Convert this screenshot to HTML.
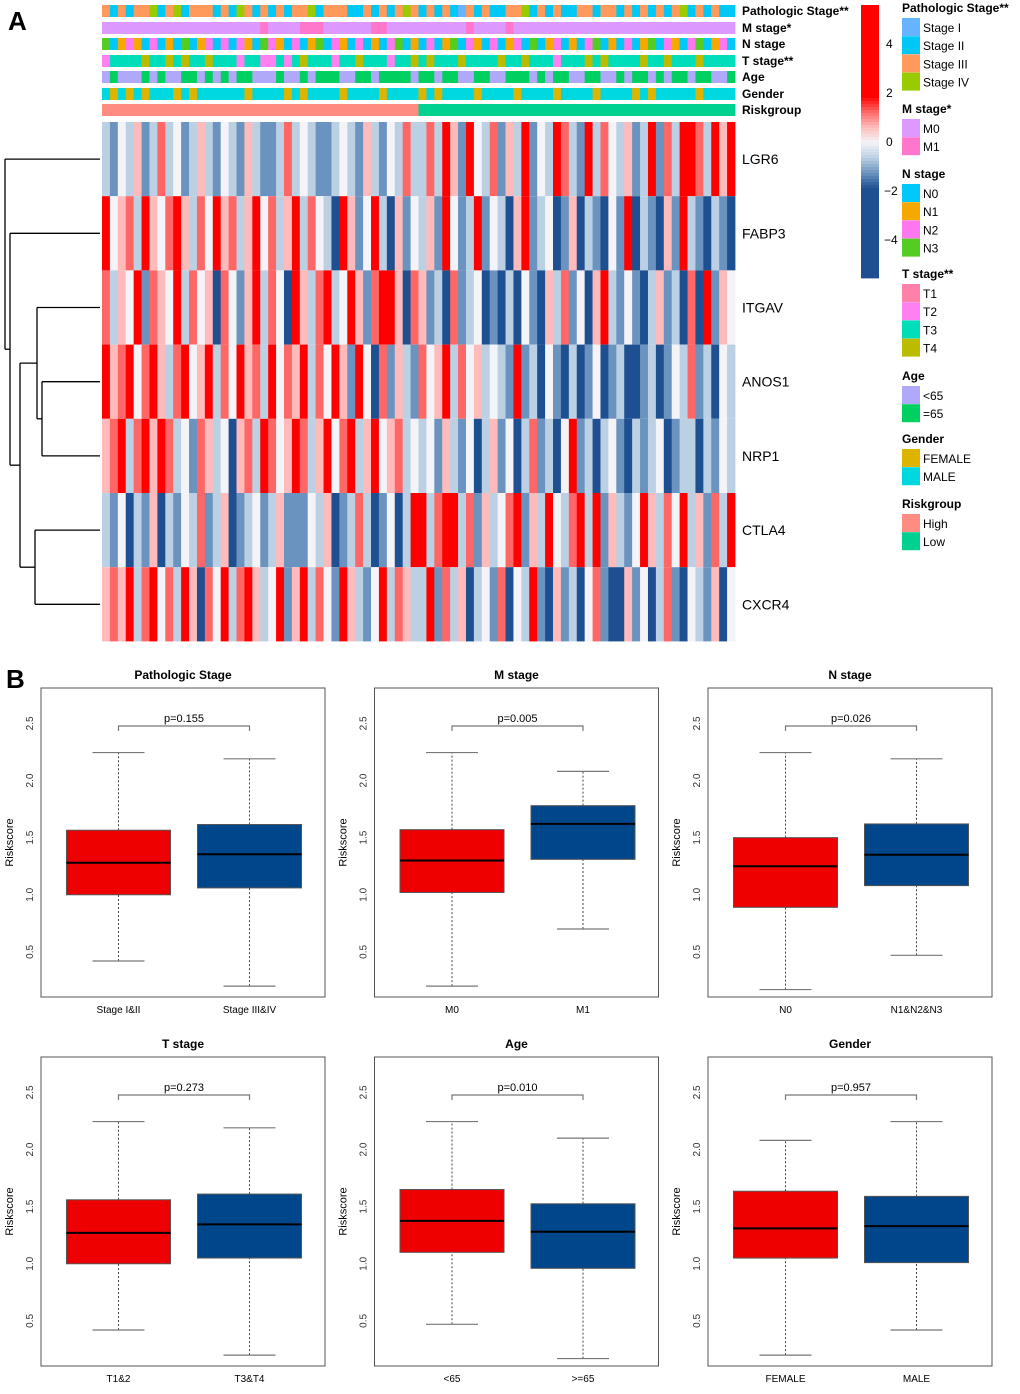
<!DOCTYPE html>
<html><head><meta charset="utf-8"><style>
body{margin:0;background:#fff}
svg{display:block;font-family:"Liberation Sans",Arial,sans-serif}
</style></head><body>
<svg id="fig" width="1020" height="1394" viewBox="0 0 1020 1394" xmlns="http://www.w3.org/2000/svg">
<text x="8" y="30" font-size="26" font-weight="bold">A</text>
<text x="6" y="688" font-size="26" font-weight="bold">B</text>
<g id="heat"></g>
<g id="dend" stroke="#000" stroke-width="1.3" fill="none"></g>
<g id="leg"></g>
<g id="box"></g>
</svg>
<script>
const NS="http://www.w3.org/2000/svg";
function mk(tag,attrs,parent,txt){const e=document.createElementNS(NS,tag);for(const k in attrs)e.setAttribute(k,attrs[k]);if(txt!==undefined)e.textContent=txt;parent.appendChild(e);return e;}

// ---- heatmap data ----
const genes=["LGR6","FABP3","ITGAV","ANOS1","NRP1","CTLA4","CXCR4"];
const LGR6=[-1,-2,0,-1,1,-2,-1,2,-1,0,-2,-1,1,-1,-2,0,-1,-2,1,-1,-2,-2,-1,2,-1,0,-1,-2,-2,-1,0,-1,-2,1,-1,-2,0,-1,2,-1,-1,2,-1,3,1,-2,3,0,-1,2,-2,1,-1,3,-2,0,-1,3,2,-1,-2,3,-1,2,0,-1,1,-2,-1,3,-2,2,-1,3,3,2,-1,3,1,3];
const FABP3=[3,0,1,2,-1,3,1,0,2,3,1,-1,2,0,3,1,2,-1,1,3,0,2,-1,1,3,-1,2,0,-1,-3,3,1,-2,0,3,-1,-3,1,-2,0,-1,1,-2,3,0,-2,-1,3,-2,0,-1,-3,1,3,-2,-1,0,-3,-2,1,-3,-1,-2,-3,0,-2,3,-3,-1,-2,-3,1,-2,3,-1,-2,-3,-1,-2,-3];
const ITGAV=[2,-1,1,0,3,-2,2,1,0,3,-1,2,0,1,-3,2,0,-2,1,3,-1,2,0,-3,3,1,-1,2,3,-1,0,3,1,-2,2,3,3,1,-3,2,1,-2,-1,-3,2,-2,-1,0,-3,-2,-3,-1,-3,0,-2,-3,1,-1,2,-2,0,-3,1,3,-1,-2,0,-2,-3,-1,1,-2,-1,-3,2,-3,3,-2,1,0];
const ANOS1=[3,1,2,3,0,2,3,1,-1,2,3,0,1,3,-1,2,0,3,1,2,-1,3,0,2,1,3,-1,2,0,3,1,-2,3,0,-3,2,-2,1,-1,-2,2,0,1,3,-1,2,0,1,-1,0,-1,-2,3,-2,-1,-3,0,-2,-3,-1,-3,-2,0,-3,-2,-1,-3,-3,-2,-1,-3,-2,0,-1,2,-2,-1,-3,0,-1];
const NRP1=[1,2,3,-1,2,3,1,3,2,-1,0,-2,2,1,-1,0,-3,1,2,-1,3,2,0,1,3,2,-1,1,3,0,2,3,-1,1,3,0,1,2,-1,0,-1,0,-2,1,-1,-2,0,-3,-1,1,-2,0,-3,-1,2,-2,-1,-3,0,3,-2,-1,-3,-1,0,-2,-3,-1,-2,-1,0,-3,-2,-1,-1,-3,-1,-2,0,-1];
const CTLA4=[-1,-2,0,-3,-1,-2,1,-3,-1,-2,0,-1,2,-2,-1,1,-3,-2,-1,0,-2,-1,1,-2,-2,-2,0,-1,1,-3,-2,-1,2,-1,-3,-2,0,-3,-1,3,3,-1,2,3,3,-1,2,-2,1,-1,0,2,3,-2,1,-1,3,0,-1,2,3,-1,3,-2,1,-1,-2,0,3,1,-1,2,0,3,-1,1,-2,2,-1,3];
const CXCR4=[1,2,1,3,-1,2,3,0,2,-1,3,1,-3,2,0,3,-1,2,3,1,-1,0,3,-2,1,3,-1,2,0,-2,3,1,-1,-2,0,3,-1,2,1,-1,-1,3,-2,2,-1,1,-3,-1,0,-2,2,-3,0,-1,3,-2,-3,1,-2,-1,-3,0,2,-2,-3,-3,1,-2,0,-3,-1,2,-2,-3,0,-1,-2,1,-3,0];
const heatRows=[LGR6,FABP3,ITGAV,ANOS1,NRP1,CTLA4,CXCR4];

const annNames=["Pathologic Stage**","M stage*","N stage","T stage**","Age","Gender","Riskgroup"];
const STAGE="21212231231222121321212122312221121212321212102121122312121122122121212123121211".split("").map(Number);
const MST="00000000000000000000100001110000001100000000001000010000000000000000000000000000".split("").map(Number);
const NST="30121020103012020210321020130210201023010201302102012030120102301020130210230120".split("").map(Number);
const TST="12222322323223222122112123222122322212232322232222322322212223232222322322232222".split("").map(Number);
const AGE="01000101001101010110001001011100110111101101100110011101011001100101101011011001".split("").map(Number);
const GEN="10101011101011111101111010111101111011110101111011110111101111011110101111101111".split("").map(Number);
const RISK="00000000000000000000000000000000000000001111111111111111111111111111111111111111".split("").map(Number);
const annData=[STAGE,MST,NST,TST,AGE,GEN,RISK];
const annColors=[["#66B3FF","#00C8F5","#FF9A5C","#99CC00"],["#DD99FF","#FF77CC"],["#00C8F8","#F5A800","#FF77EE","#55CC22"],["#FF80A8","#FF80F0","#00DDBB","#BBBB00"],["#B0A8F8","#00D060"],["#DDB400","#00D8E0"],["#FF8C80","#00D090"]];
const annLevels=[["Stage I","Stage II","Stage III","Stage IV"],["M0","M1"],["N0","N1","N2","N3"],["T1","T2","T3","T4"],["<65","=65"],["FEMALE","MALE"],["High","Low"]];
const annLegendTitles=annNames;

const HX0=102,HX1=735,HY0=122,RH=74.2;
const annY=[5,22,38,55,71,88,104],annH=12;
const heat=document.getElementById("heat");
const stops=[[-3,[30,79,144]],[-2,[106,147,191]],[-1,[188,208,228]],[0,[244,244,248]],[1,[255,187,187]],[2,[255,102,102]],[3,[255,0,0]]];
function col(v){v=Math.max(-3,Math.min(3,v));for(let i=0;i<stops.length-1;i++){const a=stops[i],b=stops[i+1];if(v<=b[0]){const t=(v-a[0])/(b[0]-a[0]);const c=a[1].map((x,j)=>Math.round(x+(b[1][j]-x)*t));return `rgb(${c})`;}}return "red";}

annData.forEach((arr,r)=>{
  const w=(HX1-HX0)/arr.length;
  const g=mk("g",{},heat);
  
  
  arr.forEach((c,i)=>{mk("rect",{x:HX0+i*w,y:annY[r],width:w+0.4,height:annH,fill:annColors[r][c]},g);});
  const t=mk("text",{x:742,y:annY[r]+10,"font-size":12,"font-weight":"bold"},heat,annNames[r]);
  
  
});
heatRows.forEach((arr,r)=>{
  const w=(HX1-HX0)/arr.length;
  const g=mk("g",{},heat);
  
  
  arr.forEach((v,i)=>{mk("rect",{x:HX0+i*w,y:HY0+r*RH,width:w+0.4,height:RH,fill:col(v)},g);});
  const t=mk("text",{x:742,y:HY0+r*RH+RH/2+5,"font-size":14},heat,genes[r]);
  
  
});

const dend=document.getElementById("dend");
const cy=genes.map((g,i)=>HY0+i*RH+RH/2);
function L(x1,y1,x2,y2){mk("line",{x1,y1,x2,y2},dend);}
const leafX=[5,10,37,42,42,35,35];
genes.forEach((g,i)=>L(leafX[i],cy[i],100,cy[i]));
L(42,cy[3],42,cy[4]); const an=(cy[3]+cy[4])/2; L(37,an,42,an);
L(37,cy[2],37,an); const it=(cy[2]+an)/2; L(20,it,37,it);
L(35,cy[5],35,cy[6]); const cc=(cy[5]+cy[6])/2; L(20,cc,35,cc);
L(20,it,20,cc); const m=(it+cc)/2; L(10,m,20,m);
L(10,cy[1],10,m); const m2=(cy[1]+m)/2; L(5,m2,10,m2);
L(5,cy[0],5,m2);

const leg=document.getElementById("leg");
const ckTicks=[4,2,0,-2,-4];
const ckY=v=>141-v*24.5;
for(let y=5;y<276;y+=3){const v=(141-y)/24.5;mk("rect",{x:861,y:y,width:18,height:3.4,fill:col(v*1.6)},leg);}
ckTicks.forEach(v=>{const t=mk("text",{x:v<0?884:886,y:ckY(v)+5,"font-size":12},leg,v<0?"\u2212"+(-v):String(v));});
const legTitleY=[12,113,178,278,380,443,508];
annLevels.forEach((lv,r)=>{
  const t=mk("text",{x:902,y:legTitleY[r],"font-size":12,"font-weight":"bold"},leg,annLegendTitles[r]);
  
  
  lv.forEach((name,i)=>{
    const y=legTitleY[r]+6+i*18.2;
    const s=mk("rect",{x:902,y:y,width:18,height:18,fill:annColors[r][i]},leg);
    
    
    const lt=mk("text",{x:923,y:y+14,"font-size":12},leg,name);
    
    
  });
});

const panelTitles=["Pathologic Stage","M stage","N stage","T stage","Age","Gender"];
const groupLabels=[["Stage I&II","Stage III&IV"],["M0","M1"],["N0","N1&N2&N3"],["T1&2","T3&T4"],["<65",">=65"],["FEMALE","MALE"]];
const pvals=["p=0.155","p=0.005","p=0.026","p=0.273","p=0.010","p=0.957"];
// [lowerWhisker, Q1, median, Q3, upperWhisker]
const statsG1=[[0.42,1.0,1.28,1.565,2.245],[0.20,1.02,1.30,1.57,2.245],[0.17,0.89,1.25,1.50,2.245],[0.42,1.0,1.27,1.56,2.245],[0.47,1.10,1.375,1.65,2.245],[0.20,1.05,1.31,1.635,2.08]];
const statsG2=[[0.20,1.06,1.355,1.615,2.19],[0.70,1.31,1.62,1.78,2.08],[0.47,1.08,1.35,1.62,2.19],[0.20,1.05,1.345,1.61,2.19],[0.17,0.96,1.28,1.525,2.10],[0.42,1.01,1.33,1.59,2.245]];
const yTicks=[0.5,1.0,1.5,2.0,2.5];
const boxColors=["#EE0000","#00468B"];
const box=document.getElementById("box");
for(let p=0;p<6;p++){
  const ox=(p%3)*333.5, oy=Math.floor(p/3)*369;
  const g=mk("g",{},box);
  
  
  const fx0=41+ox,fx1=325+ox,fy0=688+oy,fy1=997+oy;
  const Y=v=>fy0+(2.81-v)/(2.81-0.105)*(fy1-fy0);
  const cx=[118.5+ox,249.5+ox];
  mk("rect",{x:fx0,y:fy0,width:fx1-fx0,height:fy1-fy0,fill:"none",stroke:"#555","stroke-width":1},g);
  const tt=mk("text",{x:(fx0+fx1)/2,y:fy0-9,"font-size":12,"font-weight":"bold","text-anchor":"middle"},g,panelTitles[p]);
  
  const yl=mk("text",{x:0,y:0,"font-size":11,"text-anchor":"middle",transform:`translate(${fx0-28},${(fy0+fy1)/2}) rotate(-90)`},g,"Riskscore");
  
  yTicks.forEach(v=>{
    const t=mk("text",{x:0,y:0,"font-size":10,"text-anchor":"middle",fill:"#333",transform:`translate(${fx0-8},${Y(v)}) rotate(-90)`},g,v.toFixed(1));
    
  });
  [statsG1[p],statsG2[p]].forEach((s,k)=>{
    const c=cx[k],hw=52,cw=26;
    mk("line",{x1:c,y1:Y(s[0]),x2:c,y2:Y(s[1]),stroke:"#444","stroke-dasharray":"2,2"},g);
    mk("line",{x1:c,y1:Y(s[3]),x2:c,y2:Y(s[4]),stroke:"#444","stroke-dasharray":"2,2"},g);
    mk("line",{x1:c-cw,y1:Y(s[0]),x2:c+cw,y2:Y(s[0]),stroke:"#777","stroke-width":1.2},g);
    mk("line",{x1:c-cw,y1:Y(s[4]),x2:c+cw,y2:Y(s[4]),stroke:"#777","stroke-width":1.2},g);
    const b=mk("rect",{x:c-hw,y:Y(s[3]),width:2*hw,height:Y(s[1])-Y(s[3]),fill:boxColors[k],stroke:"#555","stroke-width":1},g);
    
    mk("line",{x1:c-hw,y1:Y(s[2]),x2:c+hw,y2:Y(s[2]),stroke:"#000","stroke-width":2},g);
    const xl=mk("text",{x:c,y:fy1+16,"font-size":10,"text-anchor":"middle"},g,groupLabels[p][k]);
    
  });
  const by=fy0+38;
  mk("path",{d:`M${cx[0]},${by+5}V${by}H${cx[1]}V${by+5}`,fill:"none",stroke:"#777","stroke-width":1.2},g);
  const pt=mk("text",{x:(cx[0]+cx[1])/2,y:by-4,"font-size":11,"text-anchor":"middle"},g,pvals[p]);
  
}
</script>
</body></html>
